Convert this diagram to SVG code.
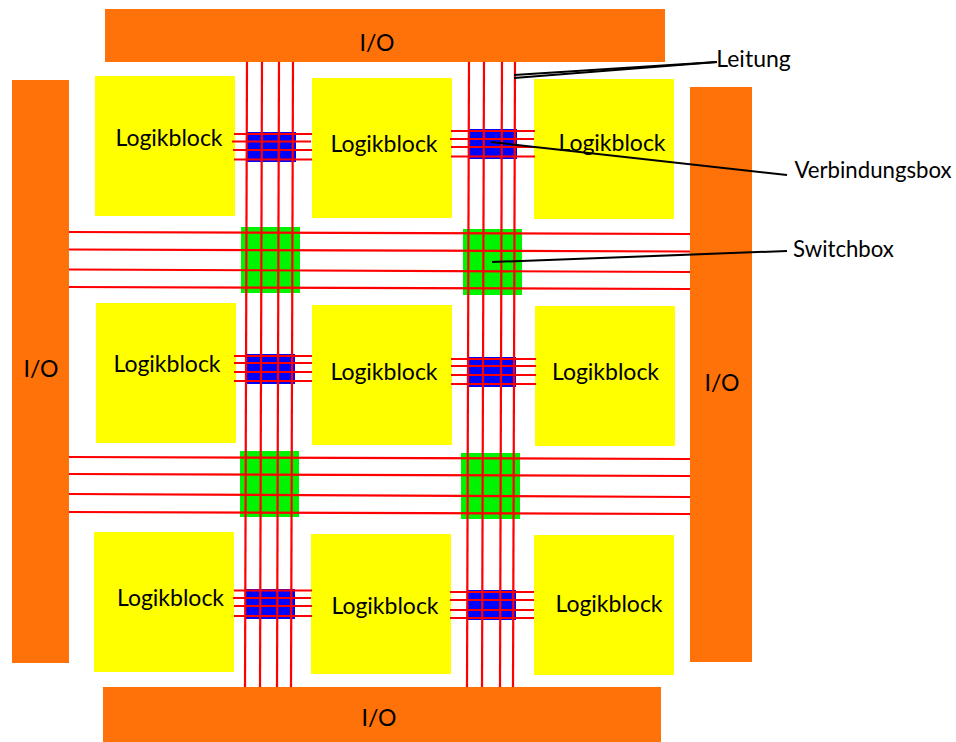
<svg xmlns="http://www.w3.org/2000/svg" width="956" height="742" viewBox="0 0 956 742">
<style>
.io{fill:#ff7109}
.lb{fill:#ffff00}
.sb{fill:#00f400}
.vb{fill:#0000ff}
text{font-family:"Lato","Liberation Sans",sans-serif;font-size:23px;fill:#000;text-anchor:middle}
.s{font-size:22.2px}
.w line{stroke:#ff0000;stroke-width:2.2;fill:none}
.l line{stroke:#000;stroke-width:2;fill:none}
</style>
<g id="io-top"><rect class="io" x="105" y="9" width="560" height="53"/><text x="377" y="51">I/O</text></g>
<g id="io-left"><rect class="io" x="12" y="80" width="57" height="583"/><text x="41" y="377">I/O</text></g>
<g id="io-right"><rect class="io" x="690" y="87" width="62" height="575"/><text x="722" y="391">I/O</text></g>
<g id="io-bottom"><rect class="io" x="103" y="687" width="558" height="55"/><text x="379" y="726">I/O</text></g>
<g id="lb-1"><rect class="lb" x="95" y="76" width="140" height="140"/><text x="169" y="146">Logikblock</text></g>
<g id="lb-2"><rect class="lb" x="312" y="78" width="140" height="140"/><text x="384" y="151.500">Logikblock</text></g>
<g id="lb-3"><rect class="lb" x="534" y="79" width="140" height="140"/><text x="612" y="150.500">Logikblock</text></g>
<g id="lb-4"><rect class="lb" x="96" y="303" width="140" height="140"/><text x="167" y="371.500">Logikblock</text></g>
<g id="lb-5"><rect class="lb" x="312" y="305" width="140" height="140"/><text x="384" y="379.500">Logikblock</text></g>
<g id="lb-6"><rect class="lb" x="535" y="306" width="140" height="140"/><text x="605.500" y="379.500">Logikblock</text></g>
<g id="lb-7"><rect class="lb" x="94" y="532" width="140" height="140"/><text x="170.500" y="606">Logikblock</text></g>
<g id="lb-8"><rect class="lb" x="311" y="534" width="140" height="140"/><text x="385" y="613.500">Logikblock</text></g>
<g id="lb-9"><rect class="lb" x="534" y="535" width="140" height="140"/><text x="609" y="611.500">Logikblock</text></g>
<g id="sb-1"><rect class="sb" x="241" y="227" width="59" height="66"/></g>
<g id="sb-2"><rect class="sb" x="463" y="229" width="59" height="66"/></g>
<g id="sb-3"><rect class="sb" x="240" y="451" width="59" height="66"/></g>
<g id="sb-4"><rect class="sb" x="461" y="453" width="59" height="66"/></g>
<g id="vb-1"><rect class="vb" x="247" y="132" width="49" height="30"/></g>
<g id="vb-2"><rect class="vb" x="468" y="129" width="49" height="30"/></g>
<g id="vb-3"><rect class="vb" x="246" y="354" width="49" height="30"/></g>
<g id="vb-4"><rect class="vb" x="467" y="357" width="49" height="30"/></g>
<g id="vb-5"><rect class="vb" x="245" y="589" width="50" height="30"/></g>
<g id="vb-6"><rect class="vb" x="467" y="590" width="49" height="30"/></g>
<g id="connectors">
<g class="w">
<line x1="247" y1="62" x2="245" y2="687"/><line x1="262" y1="62" x2="260" y2="687"/><line x1="279" y1="62" x2="277" y2="687"/><line x1="293" y1="62" x2="291" y2="687"/>
<line x1="469" y1="62" x2="467" y2="687"/><line x1="484" y1="62" x2="482" y2="687"/><line x1="502" y1="62" x2="500" y2="687"/><line x1="515" y1="62" x2="513" y2="687"/>
<line x1="69" y1="232" x2="690" y2="234"/><line x1="69" y1="249.5" x2="690" y2="251.5"/><line x1="69" y1="269.5" x2="690" y2="272"/><line x1="69" y1="287" x2="690" y2="289"/>
<line x1="69" y1="457" x2="690" y2="459"/><line x1="69" y1="474" x2="690" y2="476"/><line x1="69" y1="494" x2="690" y2="497"/><line x1="69" y1="512" x2="690" y2="514"/>
<line x1="234" y1="134" x2="312" y2="134"/><line x1="232" y1="141.500" x2="311" y2="141.500"/><line x1="233" y1="150" x2="312" y2="150"/><line x1="234" y1="159.500" x2="312" y2="159.500"/>
<line x1="451" y1="131" x2="535" y2="131"/><line x1="450" y1="139" x2="534" y2="139"/><line x1="451" y1="147" x2="535" y2="147"/><line x1="451" y1="156.500" x2="535" y2="156.500"/>
<line x1="234" y1="356" x2="312" y2="356"/><line x1="234" y1="363" x2="312" y2="363"/><line x1="234" y1="372" x2="312" y2="372"/><line x1="234" y1="381" x2="312" y2="381"/>
<line x1="451" y1="359" x2="536" y2="359"/><line x1="451" y1="366" x2="536" y2="366"/><line x1="451" y1="375" x2="536" y2="375"/><line x1="451" y1="384" x2="536" y2="384"/>
<line x1="234" y1="590.500" x2="312" y2="590.500"/><line x1="233" y1="598" x2="311" y2="598"/><line x1="234" y1="606" x2="312" y2="606"/><line x1="234" y1="616" x2="312" y2="616"/>
<line x1="450" y1="592" x2="534" y2="592"/><line x1="450" y1="600" x2="534" y2="600"/><line x1="450" y1="610" x2="534" y2="610"/><line x1="450" y1="618" x2="534" y2="618"/>
</g>
<g class="l">
<line x1="514" y1="75" x2="717" y2="62"/><line x1="514" y1="78" x2="717" y2="62"/>
<line x1="491" y1="142" x2="787" y2="175"/>
<line x1="492" y1="262" x2="787" y2="251"/>
</g>
</g>
<text x="753.500" y="67">Leitung</text>
<text class="s" x="873" y="178">Verbindungsbox</text>
<text class="s" x="843.500" y="257">Switchbox</text>
</svg>
